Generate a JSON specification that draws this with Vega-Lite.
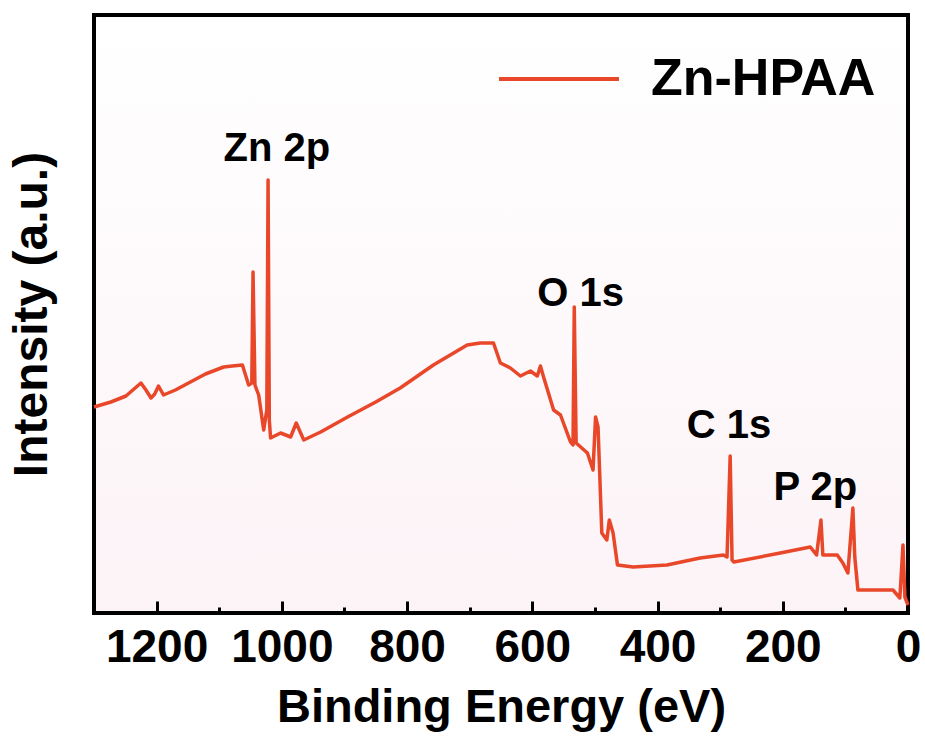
{
  "$schema": "https://vega.github.io/schema/vega-lite/v6.json",
  "width": 814,
  "height": 598,
  "autosize": {"type": "none"},
  "padding": {"left": 94, "top": 15, "right": 17, "bottom": 123},
  "background": "white",
  "config": {
    "view": {
      "stroke": "black",
      "strokeWidth": 4,
      "fill": {"gradient": "linear", "x1": 0, "y1": 0, "x2": 0, "y2": 1, "stops": [{"offset": 0, "color": "#FFFFFF"}, {"offset": 1, "color": "#FCF3F7"}]}
    },
    "font": "Liberation Sans"
  },
  "datasets": {
    "curve": [
      {"energy": 1300, "intensity": 206}, {"energy": 1273, "intensity": 211}, {"energy": 1249, "intensity": 217},
      {"energy": 1225, "intensity": 230}, {"energy": 1217, "intensity": 223}, {"energy": 1209, "intensity": 215},
      {"energy": 1203, "intensity": 219}, {"energy": 1197, "intensity": 227}, {"energy": 1189, "intensity": 218},
      {"energy": 1170, "intensity": 223}, {"energy": 1146, "intensity": 231}, {"energy": 1122, "intensity": 239},
      {"energy": 1093, "intensity": 246}, {"energy": 1079, "intensity": 247}, {"energy": 1063, "intensity": 248},
      {"energy": 1053, "intensity": 228}, {"energy": 1048, "intensity": 230}, {"energy": 1046, "intensity": 341},
      {"energy": 1043, "intensity": 228}, {"energy": 1037, "intensity": 218}, {"energy": 1029, "intensity": 183},
      {"energy": 1024, "intensity": 203}, {"energy": 1022, "intensity": 433}, {"energy": 1020, "intensity": 193},
      {"energy": 1018, "intensity": 175}, {"energy": 1002, "intensity": 180}, {"energy": 986, "intensity": 176},
      {"energy": 977, "intensity": 190}, {"energy": 965, "intensity": 173}, {"energy": 938, "intensity": 181},
      {"energy": 895, "intensity": 196}, {"energy": 850, "intensity": 211}, {"energy": 811, "intensity": 225},
      {"energy": 758, "intensity": 248}, {"energy": 704, "intensity": 268}, {"energy": 683, "intensity": 270},
      {"energy": 662, "intensity": 270}, {"energy": 651, "intensity": 250}, {"energy": 635, "intensity": 245},
      {"energy": 619, "intensity": 237}, {"energy": 603, "intensity": 242}, {"energy": 592, "intensity": 237},
      {"energy": 587, "intensity": 247}, {"energy": 582, "intensity": 236}, {"energy": 566, "intensity": 203},
      {"energy": 555, "intensity": 198}, {"energy": 539, "intensity": 171}, {"energy": 535, "intensity": 168},
      {"energy": 533, "intensity": 306}, {"energy": 530, "intensity": 170}, {"energy": 512, "intensity": 160},
      {"energy": 503, "intensity": 143}, {"energy": 499, "intensity": 196}, {"energy": 495, "intensity": 186},
      {"energy": 489, "intensity": 80}, {"energy": 481, "intensity": 73}, {"energy": 477, "intensity": 93},
      {"energy": 471, "intensity": 80}, {"energy": 464, "intensity": 48}, {"energy": 439, "intensity": 46},
      {"energy": 385, "intensity": 48}, {"energy": 332, "intensity": 55}, {"energy": 295, "intensity": 58},
      {"energy": 289, "intensity": 56}, {"energy": 284, "intensity": 157}, {"energy": 281, "intensity": 53},
      {"energy": 278, "intensity": 51}, {"energy": 204, "intensity": 60}, {"energy": 156, "intensity": 66},
      {"energy": 146, "intensity": 58}, {"energy": 139, "intensity": 93}, {"energy": 136, "intensity": 58},
      {"energy": 113, "intensity": 58}, {"energy": 104, "intensity": 50}, {"energy": 96, "intensity": 40},
      {"energy": 88, "intensity": 105}, {"energy": 85, "intensity": 56}, {"energy": 80, "intensity": 23},
      {"energy": 24, "intensity": 23}, {"energy": 13, "intensity": 15}, {"energy": 8, "intensity": 68},
      {"energy": 5, "intensity": 16}, {"energy": 0, "intensity": 8}
    ],
    "peaks": [
      {"label": "Zn 2p", "energy": 1008, "intensity": 464},
      {"label": "O 1s", "energy": 523, "intensity": 319},
      {"label": "C 1s", "energy": 286, "intensity": 187},
      {"label": "P 2p", "energy": 148, "intensity": 125}
    ]
  },
  "layer": [
    {
      "data": {"name": "curve"},
      "mark": {"type": "line", "strokeWidth": 3.5, "interpolate": "linear", "strokeJoin": "round"},
      "encoding": {
        "x": {
          "field": "energy", "type": "quantitative",
          "scale": {"domain": [0, 1300], "reverse": true, "nice": false, "zero": false},
          "axis": {
            "title": "Binding Energy (eV)",
            "values": [1200, 1100, 1000, 900, 800, 700, 600, 500, 400, 300, 200, 100, 0],
            "format": "d",
            "labelExpr": "datum.value % 200 === 0 ? datum.label : ''",
            "domain": false,
            "grid": false,
            "ticks": true,
            "tickColor": "black",
            "tickWidth": 3,
            "tickSize": -12,
            "tickDash": {"condition": {"test": "datum.value % 200 !== 0", "value": [6, 40]}, "value": []},
            "labelFont": "Liberation Sans",
            "labelFontWeight": "bold",
            "labelFontSize": 46,
            "labelColor": "black",
            "labelPadding": 24,
            "labelFlush": false,
            "labelOverlap": false,
            "titleFont": "Liberation Sans",
            "titleFontWeight": "bold",
            "titleFontSize": 47,
            "titleColor": "black",
            "titlePadding": 14
          }
        },
        "y": {
          "field": "intensity", "type": "quantitative",
          "scale": {"domain": [0, 598], "nice": false, "zero": false},
          "axis": {
            "title": "Intensity (a.u.)",
            "ticks": false, "labels": false, "domain": false, "grid": false,
            "titleFont": "Liberation Sans",
            "titleFontWeight": "bold",
            "titleFontSize": 48,
            "titleColor": "black",
            "titlePadding": 38
          }
        },
        "color": {
          "datum": "Zn-HPAA",
          "scale": {"range": ["#E9472A"]},
          "legend": {
            "title": null,
            "orient": "none",
            "legendX": 403,
            "legendY": 2,
            "padding": 0,
            "symbolType": "stroke",
            "symbolSize": 14400,
            "symbolStrokeWidth": 4,
            "labelFont": "Liberation Sans",
            "labelFontWeight": "bold",
            "labelFontSize": 52,
            "labelColor": "black",
            "labelOffset": 30,
            "labelLimit": 400
          }
        }
      }
    },
    {
      "data": {"name": "peaks"},
      "mark": {"type": "text", "font": "Liberation Sans", "fontWeight": "bold", "fontSize": 40, "color": "black", "align": "center", "baseline": "middle"},
      "encoding": {
        "x": {"field": "energy", "type": "quantitative"},
        "y": {"field": "intensity", "type": "quantitative"},
        "text": {"field": "label"}
      }
    }
  ]
}
